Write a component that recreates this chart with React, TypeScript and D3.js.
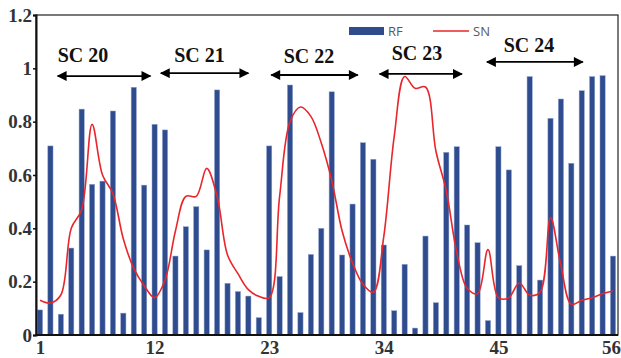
import React, { useEffect, useRef } from "react";
import * as d3 from "d3";

// sample index (1..56)
const samples = d3.range(1, 57);

// RF bars
const rf = [
  0.094, 0.709, 0.078, 0.326, 0.847, 0.565, 0.577, 0.84, 0.082, 0.929,
  0.562, 0.79, 0.769, 0.296, 0.406, 0.481, 0.319, 0.919, 0.194, 0.163,
  0.146, 0.065, 0.709, 0.219, 0.9375, 0.084, 0.302, 0.4, 0.912, 0.3,
  0.491, 0.721, 0.659, 0.3375, 0.091, 0.265, 0.026, 0.371, 0.121, 0.685,
  0.706, 0.4125, 0.346, 0.054, 0.706, 0.619, 0.26, 0.969, 0.206, 0.8125,
  0.885, 0.644, 0.916, 0.969, 0.9725, 0.296,
];

// SN line
const sn = [
  0.13, 0.12, 0.15, 0.4, 0.47, 0.79, 0.6, 0.53, 0.36, 0.25,
  0.185, 0.14, 0.206, 0.39, 0.52, 0.52, 0.625, 0.52, 0.3, 0.23,
  0.17, 0.145, 0.14, 0.52, 0.8, 0.855, 0.82, 0.72, 0.58, 0.39,
  0.27, 0.19, 0.16, 0.37, 0.745, 0.969, 0.925, 0.93, 0.69, 0.54,
  0.31, 0.175, 0.155, 0.32, 0.14, 0.14, 0.195, 0.15, 0.16, 0.44,
  0.26, 0.115, 0.13, 0.14, 0.155, 0.165,
];

const xTicks = [1, 12, 23, 34, 45, 56];
const yTicks = [0, 0.2, 0.4, 0.6, 0.8, 1, 1.2];

// solar cycle annotations (positions in sample index / value units)
const cycles = ["SC 20", "SC 21", "SC 22", "SC 23", "SC 24"];
const cycleFrom = [2.7, 12.6, 23.2, 33.6, 43.9];
const cycleTo = [11.6, 21.0, 31.5, 41.5, 53.1];
const cycleArrowY = [0.971, 0.982, 0.975, 0.979, 1.024];
const cycleTextX = [5.13, 16.31, 26.82, 37.19, 47.94];
const cycleTextY = [1.024, 1.024, 1.02, 1.031, 1.061];

const App = () => {
  const chartRef = useRef<SVGSVGElement | null>(null);

  useEffect(() => {
    const width = 621;
    const height = 358;
    const margin = { top: 15, right: 3, bottom: 23, left: 36 };

    const svg = d3.select(chartRef.current);
    svg.selectAll("*").remove();

    const x = d3
      .scalePoint<number>()
      .domain(samples)
      .range([40, 613]);

    const y = d3
      .scaleLinear()
      .domain([0, 1.2])
      .range([height - margin.bottom, margin.top]);

    const serif = "'Liberation Serif', 'Times New Roman', serif";
    const xAt = (v: number) => x.range()[0] + (v - 1) * x.step();

    // frame
    svg
      .append("rect")
      .attr("x", margin.left)
      .attr("y", margin.top)
      .attr("width", width - margin.left - margin.right)
      .attr("height", height - margin.top - margin.bottom)
      .attr("fill", "none")
      .attr("stroke", "#222")
      .attr("stroke-width", 1.2);

    // bars
    svg
      .append("g")
      .selectAll("rect")
      .data(rf)
      .join("rect")
      .attr("x", (d, i) => (x(samples[i]) as number) - 2.6)
      .attr("y", (d) => y(d))
      .attr("width", 5.2)
      .attr("height", (d) => y(0) - y(d))
      .attr("fill", "#2F4C8F")
      .attr("stroke", "#8DA2D0")
      .attr("stroke-width", 0.5);

    // SN curve
    const line = d3
      .line<number>()
      .x((d, i) => x(samples[i]) as number)
      .y((d) => y(d))
      .curve(d3.curveCatmullRom.alpha(0.5));

    svg
      .append("path")
      .datum(sn)
      .attr("d", line)
      .attr("fill", "none")
      .attr("stroke", "#E8262B")
      .attr("stroke-width", 1.6);

    // y axis
    const yAxis = svg
      .append("g")
      .attr("transform", `translate(${margin.left},0)`)
      .call(
        d3
          .axisLeft(y)
          .tickValues(yTicks)
          .tickSize(3)
          .tickFormat((d) => d3.format("~g")(d as number))
      );
    yAxis.select(".domain").attr("stroke", "#111").attr("stroke-width", 2);
    yAxis.selectAll("line").attr("stroke", "#111").attr("stroke-width", 1.5);
    yAxis
      .selectAll("text")
      .attr("font-family", serif)
      .attr("font-weight", "bold")
      .attr("font-size", 19)
      .attr("fill", "#333")
      .attr("x", -4)
      .attr("dy", "0.33em");

    // x axis
    const xAxis = svg
      .append("g")
      .attr("transform", `translate(0,${height - margin.bottom})`)
      .call(d3.axisBottom(x).tickValues(xTicks).tickSize(0).tickSizeOuter(0));
    xAxis
      .select(".domain")
      .attr("d", `M${margin.left},0H${width - margin.right}`)
      .attr("stroke", "#111")
      .attr("stroke-width", 2);
    xAxis
      .selectAll("text")
      .attr("font-family", serif)
      .attr("font-weight", "bold")
      .attr("font-size", 19)
      .attr("fill", "#333")
      .attr("y", 6)
      .attr("dy", "0.71em")
      .attr("dx", (d) => ((d as number) === 56 ? -2 : 0));

    // arrow marker
    const defs = svg.append("defs");
    ["start", "end"].forEach((k) => {
      defs
        .append("marker")
        .attr("id", `arrow-${k}`)
        .attr("viewBox", "0 0 10 10")
        .attr("refX", 9)
        .attr("refY", 5)
        .attr("markerWidth", 6)
        .attr("markerHeight", 5.5)
        .attr("orient", k === "end" ? "auto" : "auto-start-reverse")
        .append("path")
        .attr("d", "M0,0L10,5L0,10Z")
        .attr("fill", "#000");
    });

    // cycle annotations
    const ann = svg.append("g");
    cycles.forEach((label, i) => {
      ann
        .append("line")
        .attr("x1", xAt(cycleFrom[i]))
        .attr("x2", xAt(cycleTo[i]))
        .attr("y1", y(cycleArrowY[i]))
        .attr("y2", y(cycleArrowY[i]))
        .attr("stroke", "#000")
        .attr("stroke-width", 1.8)
        .attr("marker-start", "url(#arrow-start)")
        .attr("marker-end", "url(#arrow-end)");
      ann
        .append("text")
        .attr("x", xAt(cycleTextX[i]))
        .attr("y", y(cycleTextY[i]))
        .attr("text-anchor", "middle")
        .attr("font-family", serif)
        .attr("font-weight", "bold")
        .attr("font-size", 20)
        .attr("fill", "#111")
        .text(label);
    });

    // legend
    const legend = svg.append("g").attr("transform", "translate(349,31)");
    legend
      .append("rect")
      .attr("x", 0)
      .attr("y", -4)
      .attr("width", 35)
      .attr("height", 8)
      .attr("fill", "#2F4C8F");
    legend
      .append("text")
      .attr("x", 39)
      .attr("y", 5)
      .attr("font-family", "'Open Sans', 'Liberation Sans', sans-serif")
      .attr("font-size", 13)
      .attr("fill", "#595959")
      .text("RF");
    legend
      .append("line")
      .attr("x1", 84)
      .attr("x2", 120)
      .attr("y1", 0)
      .attr("y2", 0)
      .attr("stroke", "#E8262B")
      .attr("stroke-width", 1.6);
    legend
      .append("text")
      .attr("x", 124)
      .attr("y", 5)
      .attr("font-family", "'Open Sans', 'Liberation Sans', sans-serif")
      .attr("font-size", 13)
      .attr("fill", "#595959")
      .text("SN");
  }, []);

  return (
    <svg
      ref={chartRef}
      width={621}
      height={358}
      style={{ position: "absolute", left: 0, top: 0, background: "#fff" }}
    />
  );
};

export default App;
